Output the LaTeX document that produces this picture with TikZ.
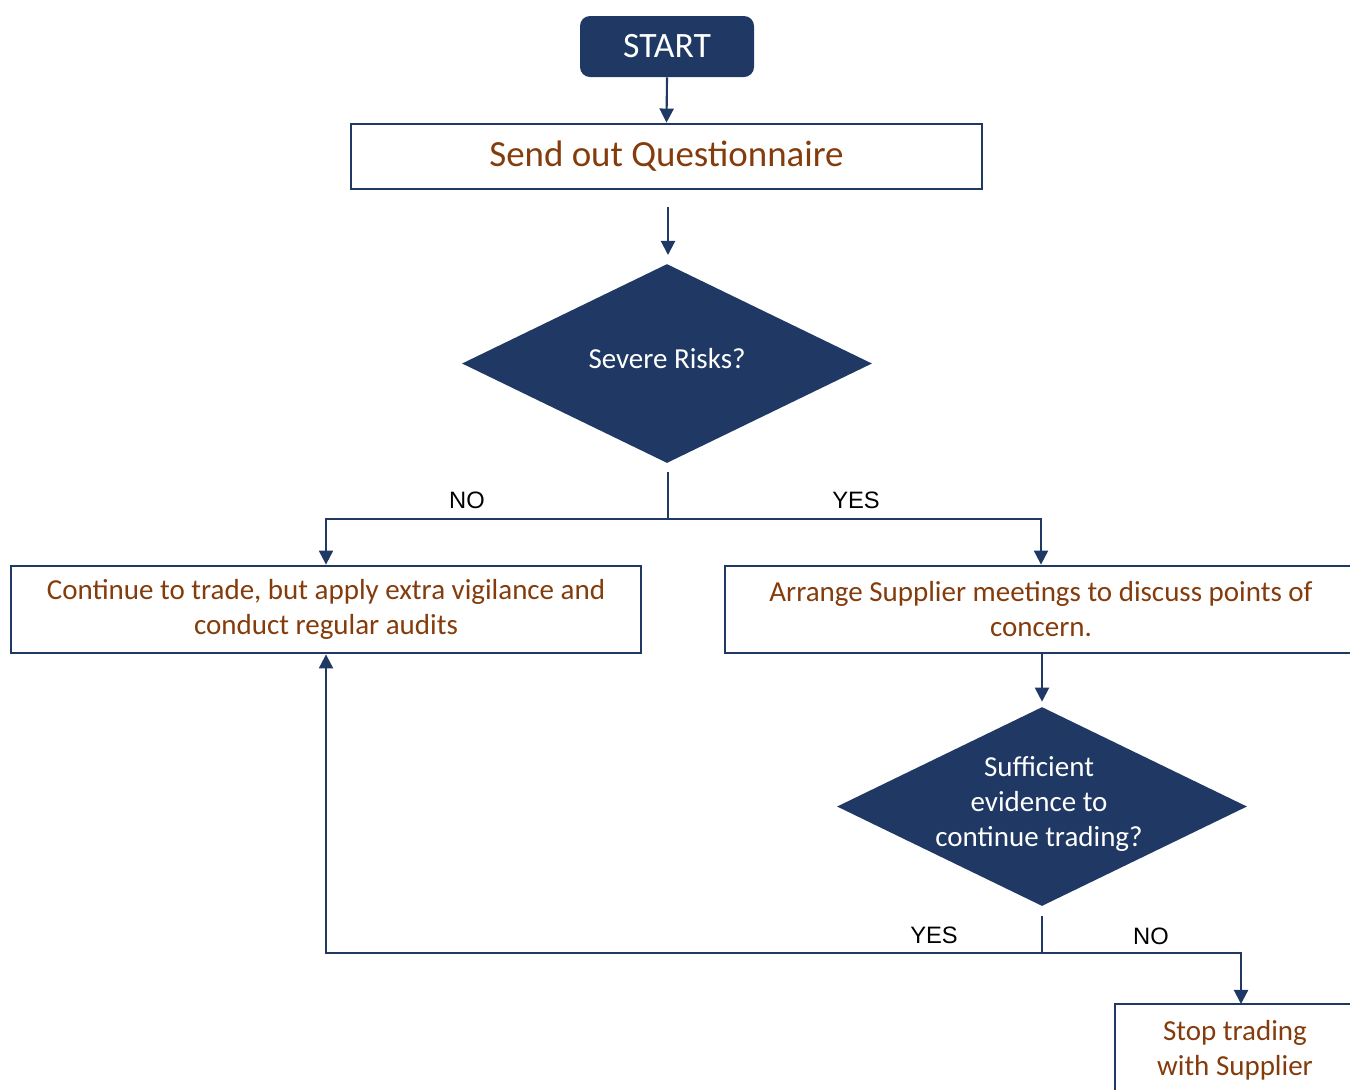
\documentclass[tikz,border=0pt]{standalone}
\usepackage{fontspec}
\setmainfont{Carlito}
\newfontfamily\labfont{Liberation Sans}
\usetikzlibrary{shapes.geometric,arrows.meta}
\definecolor{navy}{RGB}{31,56,100}
\definecolor{brown}{RGB}{132,60,12}
\tikzset{
  boxnode/.style={draw=navy,line width=1.6pt,fill=white,text=brown,align=center,inner sep=0pt,
    font=\fontsize{16.5}{19.9}\selectfont},
  decision/.style={diamond,fill=navy,draw=none,inner sep=0pt},
  dtext/.style={text=white,align=center,font=\fontsize{16.5}{19.9}\selectfont},
  conn/.style={draw=navy,line width=1.2pt,-{Triangle[width=8pt,length=8pt]}},
  thinline/.style={draw=navy,line width=0.9pt},
  lab/.style={font=\labfont\fontsize{13.5}{15}\selectfont,text=black}
}
\begin{document}
\begin{tikzpicture}
\useasboundingbox (0,0) rectangle (27,-21.78);
\clip (0,0) rectangle (27,-21.78);
% START
\node[fill=navy,rounded corners=0.2cm,minimum width=3.48cm,minimum height=1.22cm,text=white,
  font=\fontsize{20.3}{24}\selectfont,inner sep=0pt] (start) at (13.34,-0.93) {START};
% Send out Questionnaire
\node[boxnode,minimum width=12.62cm,minimum height=1.3cm,font=\fontsize{21}{25}\selectfont] (send) at (13.33,-3.13) {Send out Questionnaire};
% free arrow
\coordinate (a1) at (13.36,-4.14);
\coordinate (a2) at (13.36,-5.10);
% Diamond 1
\node[decision,minimum width=8.2cm,minimum height=3.98cm] (d1) at (13.34,-7.27) {};
\node[dtext] (d1text) at ([yshift=0.1cm]d1.center) {Severe Risks?};
% boxes
\node[boxnode,minimum width=12.6cm,minimum height=1.74cm] (left) at (6.52,-12.19)
  {Continue to trade, but apply extra vigilance and\\conduct regular audits};
\node[boxnode,minimum width=12.64cm,minimum height=1.74cm] (right) at (20.82,-12.19)
  {Arrange Supplier meetings to discuss points of\\concern.};
% Diamond 2
\node[decision,minimum width=8.2cm,minimum height=3.98cm] (d2) at (20.84,-16.13) {};
\node[dtext] (d2text) at ([xshift=-0.06cm,yshift=0.06cm]d2.center) {Sufficient\\evidence to\\continue trading?};
% Stop box
\node[boxnode,minimum width=4.8cm,minimum height=1.84cm] (stop) at (24.7,-21.0)
  {Stop trading\\with Supplier};
% junctions
\coordinate (j1) at (13.36,-10.38);
\coordinate (j2) at (20.84,-19.06);
\coordinate (stopin) at (24.82,-20.08);
% connectors
\draw[conn] (start.south) -- (send.north);
\draw[conn] (a1) -- (a2);
\draw[thinline,shorten <=0.18cm] (d1.south -| j1) -- (j1);
\draw[conn] (j1) -| (left.north);
\draw[conn] (j1) -| (right.north);
\draw[conn,shorten >=0.1cm] (right.south -| d2.north) -- (d2.north);
\draw[thinline,shorten <=0.2cm] (d2.south) -- (j2);
\draw[conn] (j2) -| (left.south);
\draw[conn] (j2) -| (stopin);
% labels
\node[lab] (lno1) at (9.34,-10.0) {NO};
\node[lab] (lyes1) at (17.12,-10.0) {YES};
\node[lab] (lyes2) at (18.68,-18.7) {YES};
\node[lab] (lno2) at (23.02,-18.72) {NO};
\end{tikzpicture}
\end{document}
